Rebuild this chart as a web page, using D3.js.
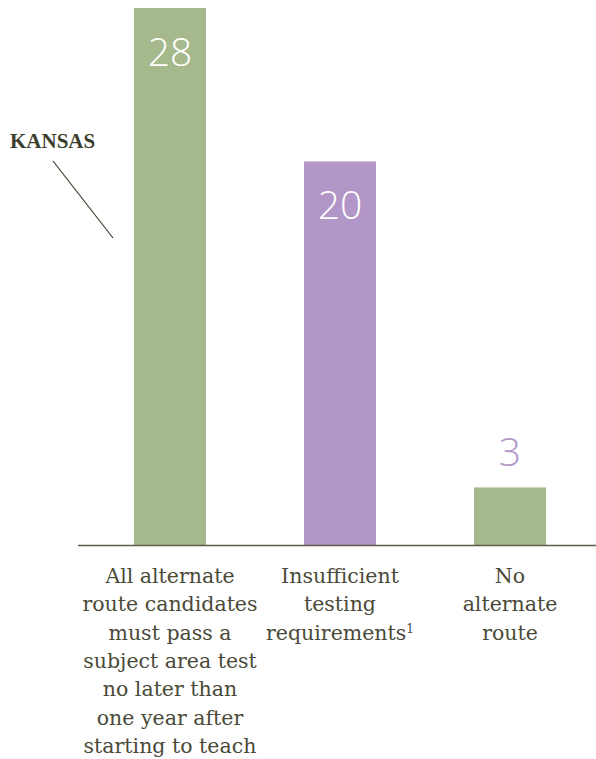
<!DOCTYPE html>
<html><head><meta charset="utf-8">
<script src="https://cdn.jsdelivr.net/npm/d3@7"></script>
<style>body{margin:0;background:#fff} .cat{font-family:"DejaVu Serif",serif;} .ann{font-family:"Liberation Serif",serif;}</style>
</head><body>
<svg id="c" width="596" height="759"></svg>
<script>
const categories = ["All alternate route candidates must pass a subject area test no later than one year after starting to teach", "Insufficient testing requirements", "No alternate route"];
const labelLines = [
  ["All alternate","route candidates","must pass a","subject area test","no later than","one year after","starting to teach"],
  ["Insufficient","testing","requirements"],
  ["No","alternate","route"]
];
const values = [28, 20, 3];
const barColors = ["#a6b98d", "#b396c8", "#a6b98d"];
const labelInside = [true, true, false];
const footnotes = ["", "1", ""];
const annotation = "KANSAS";

const svg = d3.select("#c");
const baseY = 545;
const x = d3.scalePoint().domain(categories).range([170, 510]);
const y = d3.scaleLinear().domain([0, 28]).range([baseY, 8]);
const bw = 72;

svg.selectAll("rect.bar").data(values).join("rect")
  .attr("x", (d,i) => x(categories[i]) - bw/2)
  .attr("y", d => y(d))
  .attr("width", bw)
  .attr("height", d => baseY - y(d))
  .attr("fill", (d,i) => barColors[i]);

svg.append("line").attr("x1", 78).attr("x2", 596).attr("y1", baseY + 0.5).attr("y2", baseY + 0.5)
  .attr("stroke", "#5d5d4a").attr("stroke-width", 1.5);

svg.selectAll("text.val").data(values).join("text")
  .attr("x", (d,i) => x(categories[i]))
  .attr("y", (d,i) => labelInside[i] ? y(d) + 58 : y(d) - 21)
  .attr("text-anchor", "middle")
  .attr("font-family", "'Open Sans', 'Noto Sans', sans-serif")
  .attr("font-weight", 300)
  .attr("font-size", 39)
  .attr("fill", (d,i) => labelInside[i] ? "#ffffff" : "#b396c8")
  .text(d => d);

labelLines.forEach((lines, i) => {
  const t = svg.append("text")
    .attr("class", "cat")
    .attr("text-anchor", "middle")
    .attr("font-size", 20.5)
    .attr("fill", "#4a4a38");
  lines.forEach((ln, j) => {
    t.append("tspan").attr("x", x(categories[i])).attr("y", 583 + j * 28.3).text(ln);
    if (j === lines.length - 1 && footnotes[i]) {
      t.append("tspan").attr("font-size", 12).attr("dy", -7).text(footnotes[i]);
    }
  });
});

svg.append("text").attr("x", 10).attr("y", 148)
  .attr("class", "ann").attr("font-weight", "bold")
  .attr("font-size", 21).attr("fill", "#3d3d2c").text(annotation);
svg.append("line").attr("x1", 53).attr("y1", 161).attr("x2", 113).attr("y2", 238)
  .attr("stroke", "#3d3d2c").attr("stroke-width", 1.2);
</script>
</body></html>
